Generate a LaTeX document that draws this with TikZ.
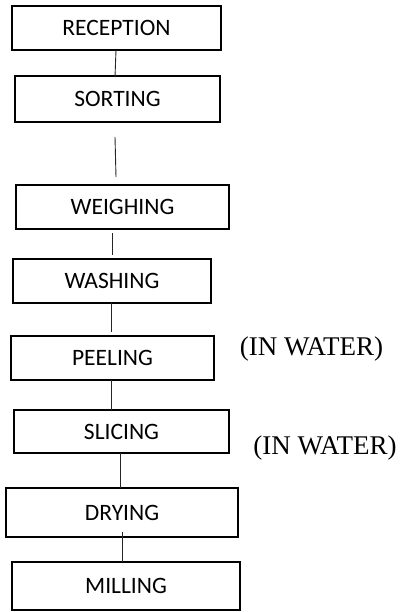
\documentclass[tikz,border=0pt]{standalone}
\usepackage{fontspec}
\setmainfont{Liberation Serif}
\newfontfamily\boxfont{Carlito}
\begin{document}
\begin{tikzpicture}[x=1pt,y=-1pt,
  stepbox/.style={draw=black, line width=1.3pt, fill=white, inner sep=0pt,
    font=\boxfont\fontsize{23.5}{26}\selectfont},
  link/.style={draw=black!85, line width=0.9pt},
  note/.style={inner sep=0pt, font=\fontsize{27}{30}\selectfont}]
\useasboundingbox (0,0) rectangle (402,612);

% process steps
\node[stepbox, minimum width=209pt, minimum height=44pt] (rec)  at (116.5,28)  {RECEPTION};
\node[stepbox, minimum width=205pt, minimum height=46pt] (sort) at (117.5,99)  {SORTING};
\node[stepbox, minimum width=213pt, minimum height=44pt] (weig) at (122.5,207) {WEIGHING};
\node[stepbox, minimum width=198pt, minimum height=44pt] (wash) at (112,281)   {WASHING};
\node[stepbox, minimum width=203pt, minimum height=44pt] (peel) at (112.5,358) {PEELING};
\node[stepbox, minimum width=215pt, minimum height=43pt] (slic) at (121.5,431.5) {SLICING};
\node[stepbox, minimum width=232pt, minimum height=49pt] (dry)  at (122,512.5) {DRYING};
\node[stepbox, minimum width=228pt, minimum height=48pt] (mill) at (126,586)   {MILLING};

% side notes
\node[note] (n1) at (311.5,349) {(IN WATER)};
\node[note] (n2) at (325,448) {(IN WATER)};

% connector end points
\coordinate (a1) at (116,50);   \coordinate (a2) at (115,77);
\coordinate (b1) at (115,137);  \coordinate (b2) at (116,177);
\coordinate (c1) at (112,233);  \coordinate (c2) at (112,255);
\coordinate (d1) at (111,303);  \coordinate (d2) at (111,332);
\coordinate (e1) at (111,380);  \coordinate (e2) at (111,410);
\coordinate (f1) at (120,453);  \coordinate (f2) at (120,488);
\coordinate (g1) at (122,532);  \coordinate (g2) at (122,562);

\draw[link] (a1) -- (a2);
\draw[link] (b1) -- (b2);
\draw[link] (c1) -- (c2);
\draw[link] (d1) -- (d2);
\draw[link] (e1) -- (e2);
\draw[link] (f1) -- (f2);
\draw[link] (g1) -- (g2);
\end{tikzpicture}
\end{document}
